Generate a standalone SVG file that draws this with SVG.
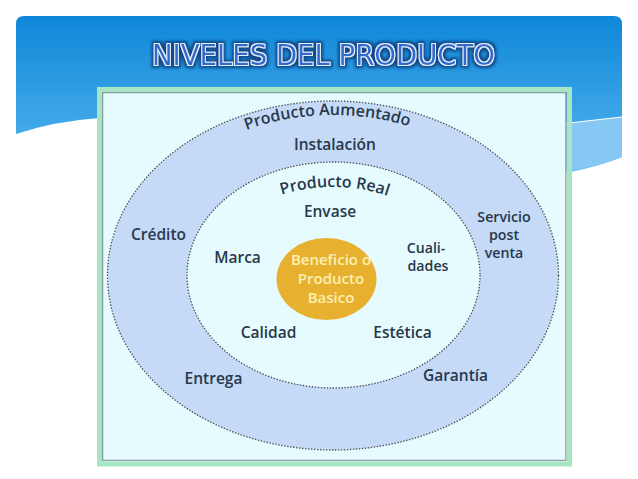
<svg xmlns="http://www.w3.org/2000/svg" width="638" height="479" viewBox="0 0 638 479">
  <defs>
    <linearGradient id="bg" x1="0" y1="16" x2="0" y2="175" gradientUnits="userSpaceOnUse">
      <stop offset="0" stop-color="#0f87d8"/>
      <stop offset="1" stop-color="#56b6f0"/>
    </linearGradient>
    <filter id="titleFx" x="-10%" y="-40%" width="120%" height="180%">
      <feMorphology in="SourceAlpha" operator="dilate" radius="2.6" result="d1"/>
      <feGaussianBlur in="d1" stdDeviation="1.8" result="b1"/>
      <feFlood flood-color="#0b3a78" flood-opacity="0.85"/>
      <feComposite in2="b1" operator="in" result="glow"/>
      <feMorphology in="SourceAlpha" operator="dilate" radius="1.1" result="d2"/>
      <feFlood flood-color="#e3f1ff"/>
      <feComposite in2="d2" operator="in" result="outline"/>
      <feMerge>
        <feMergeNode in="glow"/>
        <feMergeNode in="outline"/>
        <feMergeNode in="SourceGraphic"/>
      </feMerge>
    </filter>
    <path id="arcOuter" d="M128,275 A205,160 0 0 1 538,275"/>
    <path id="arcInner" d="M208,275 A125,88 0 0 1 458,275"/>
  </defs>
  <style>
    .lbl { font-family: "Open Sans", "Noto Sans", "Liberation Sans", sans-serif; font-weight: 600; font-size: 15.5px; fill: #27384c; text-anchor: middle; }
    .arc { font-size: 16px; }
    .multi { font-size: 14.2px; }
    .core { fill: #fbefb6; font-size: 15px; }
    .ring { stroke: #4a4f55; stroke-width: 1.3; stroke-dasharray: 1.4 1.6; }
  </style>

  <rect x="0" y="0" width="638" height="479" fill="#ffffff"/>

  <g id="background">
    <path d="M16,24 Q16,16 24,16 H614 Q622,16 622,24 V157 Q600,166 570,172 L100,118 Q55,121 16,134 Z" fill="url(#bg)"/>
    <path d="M560,124 L622,117 V157 Q600,166 566,172 Z" fill="#86c8f3"/>
    <path d="M560,124 L622,117" stroke="#ffffff" stroke-width="1.2" fill="none"/>
  </g>

  <g id="title">
    <text x="323.5" y="64.5" font-family="DejaVu Sans, Verdana, sans-serif" font-size="28" fill="#2e6bcf" text-anchor="middle" textLength="343" lengthAdjust="spacingAndGlyphs" filter="url(#titleFx)">NIVELES DEL PRODUCTO</text>
  </g>

  <g id="frame">
    <rect x="99.5" y="89.5" width="470" height="374.5" fill="none" stroke="#a6e6c2" stroke-width="5"/>
    <rect x="102.6" y="92.6" width="463.3" height="367.8" fill="#e6fbfd" stroke="#8a9ca4" stroke-width="1.3"/>
  </g>

  <g id="producto-aumentado">
    <ellipse cx="333" cy="275.5" rx="225.5" ry="174.5" fill="#c4daf6" class="ring"/>
    <text class="lbl arc"><textPath href="#arcOuter" startOffset="49%">Producto Aumentado</textPath></text>
  </g>

  <g id="producto-real">
    <ellipse cx="333.5" cy="275" rx="146.5" ry="113" fill="#e6fbfd" class="ring"/>
    <text class="lbl arc"><textPath href="#arcInner" startOffset="50.5%">Producto Real</textPath></text>
  </g>

  <g id="beneficio-basico">
    <ellipse cx="326.5" cy="279" rx="50" ry="41" fill="#e7b12f"/>
    <text class="lbl core" x="331" y="265">Beneficio o<tspan x="331" dy="19">Producto</tspan><tspan x="331" dy="19">Basico</tspan></text>
  </g>

  <g id="instalacion"><text class="lbl" x="335" y="150">Instalación</text></g>
  <g id="credito"><text class="lbl" x="158.5" y="240">Crédito</text></g>
  <g id="servicio-post-venta">
    <text class="lbl multi" x="504" y="222">Servicio<tspan x="504" dy="18">post</tspan><tspan x="504" dy="18">venta</tspan></text>
  </g>
  <g id="envase"><text class="lbl" x="330" y="217">Envase</text></g>
  <g id="marca"><text class="lbl" x="237.5" y="263">Marca</text></g>
  <g id="cualidades">
    <text class="lbl multi" x="426" y="253">Cuali-<tspan x="428" dy="18">dades</tspan></text>
  </g>
  <g id="calidad"><text class="lbl" x="268.5" y="338">Calidad</text></g>
  <g id="estetica"><text class="lbl" x="402.5" y="338">Estética</text></g>
  <g id="entrega"><text class="lbl" x="213.5" y="384">Entrega</text></g>
  <g id="garantia"><text class="lbl" x="455.5" y="381">Garantía</text></g>

  <g id="connectors"/>
</svg>
